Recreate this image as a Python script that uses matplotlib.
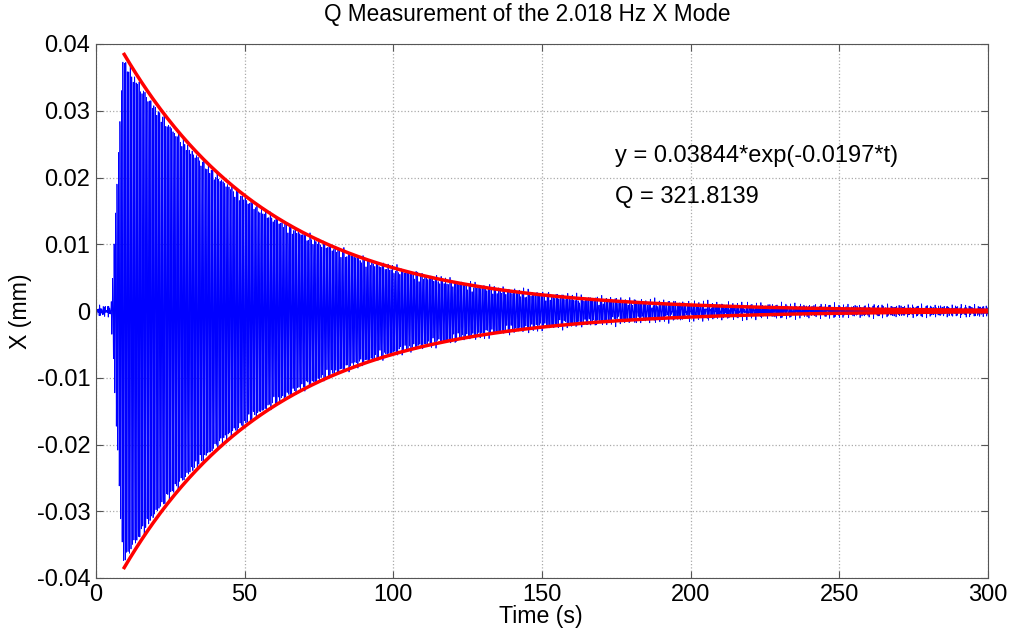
import numpy as np
import matplotlib
matplotlib.use("Agg")
import matplotlib.pyplot as plt

plt.rcParams['font.family'] = ['Liberation Sans', 'DejaVu Sans']

# ---- values ----
title = "Q Measurement of the 2.018 Hz X Mode"
mode_freq_hz = 2.018          # from title
fit_amp = 0.03844             # from fit text
fit_decay = 0.0197            # from fit text
q_value = 321.8139            # from Q text
fit_t_start = 9.5             # s, start of red envelope
fit_t_end = 300.0
excite_start = 5.0            # s, start of ring-up
excite_peak = 9.0             # s, peak of ring-up
signal_peak_ratio = 0.97      # blue peaks sit just inside the red fit
residual_amps = [0.00042, 0.0003, 0.00022]   # mm, residual motion seen in tail
residual_freqs = [2.63, 3.31, 1.57]          # Hz
sample_rate = 40.0            # samples per second
x_ticks = [0, 50, 100, 150, 200, 250, 300]
y_ticks = [-0.04, -0.03, -0.02, -0.01, 0, 0.01, 0.02, 0.03, 0.04]
y_tick_labels = ["-0.04", "-0.03", "-0.02", "-0.01", "0", "0.01", "0.02", "0.03", "0.04"]

# ---- measured signal model (decaying mode + residual) ----
t = np.arange(0, 300 + 1 / sample_rate, 1 / sample_rate)
env = np.where(t < excite_start, 0.0,
               np.where(t < excite_peak,
                        fit_amp * (t - excite_start) / (excite_peak - excite_start),
                        fit_amp * np.exp(-fit_decay * (t - fit_t_start))))
x = signal_peak_ratio * env * np.sin(2 * np.pi * mode_freq_hz * t)
for i, (a, f) in enumerate(zip(residual_amps, residual_freqs)):
    x = x + a * np.sin(2 * np.pi * f * t + 0.9 * i)

tf = np.linspace(fit_t_start, fit_t_end, 600)
yf = fit_amp * np.exp(-fit_decay * (tf - fit_t_start))

fig = plt.figure(figsize=(10.13, 6.35), dpi=100)
ax = fig.add_axes([96 / 1013, 1 - 578 / 635, (988 - 96) / 1013, (578 - 44) / 635])

ax.plot(t, x, color='#0000ff', lw=0.55)
ax.plot(tf, yf, color='#ff0000', lw=2.5)
ax.plot(tf, -yf, color='#ff0000', lw=2.5)

ax.set_xlim(0, 300)
ax.set_ylim(-0.04, 0.04)
ax.set_xticks(x_ticks)
ax.set_xticklabels([str(v) for v in x_ticks])
ax.set_yticks(y_ticks)
ax.set_yticklabels(y_tick_labels)
ax.tick_params(direction='in', top=True, right=True, labelsize=17, length=5,
               color='#555555', pad=4)
ax.grid(True, linestyle=':', color='#aaaaaa', lw=0.9)
for s in ax.spines.values():
    s.set_color('#555555')

fig.text(527 / 1013, 1 - 14 / 635, title, fontsize=16.3, ha='center', va='center')
fig.text(541 / 1013, 1 - 616 / 635, "Time (s)", fontsize=16.7, ha='center', va='center')
fig.text(20 / 1013, 1 - 311 / 635, "X (mm)", fontsize=16.7, ha='center', va='center',
         rotation=90)

ax.text(174.5, 0.0232, "y = %.5f*exp(-%.4f*t)" % (fit_amp, fit_decay), fontsize=17, va='center')
ax.text(174.5, 0.0171, "Q = %.4f" % q_value, fontsize=17, va='center')

fig.savefig("out.png", dpi=100)
